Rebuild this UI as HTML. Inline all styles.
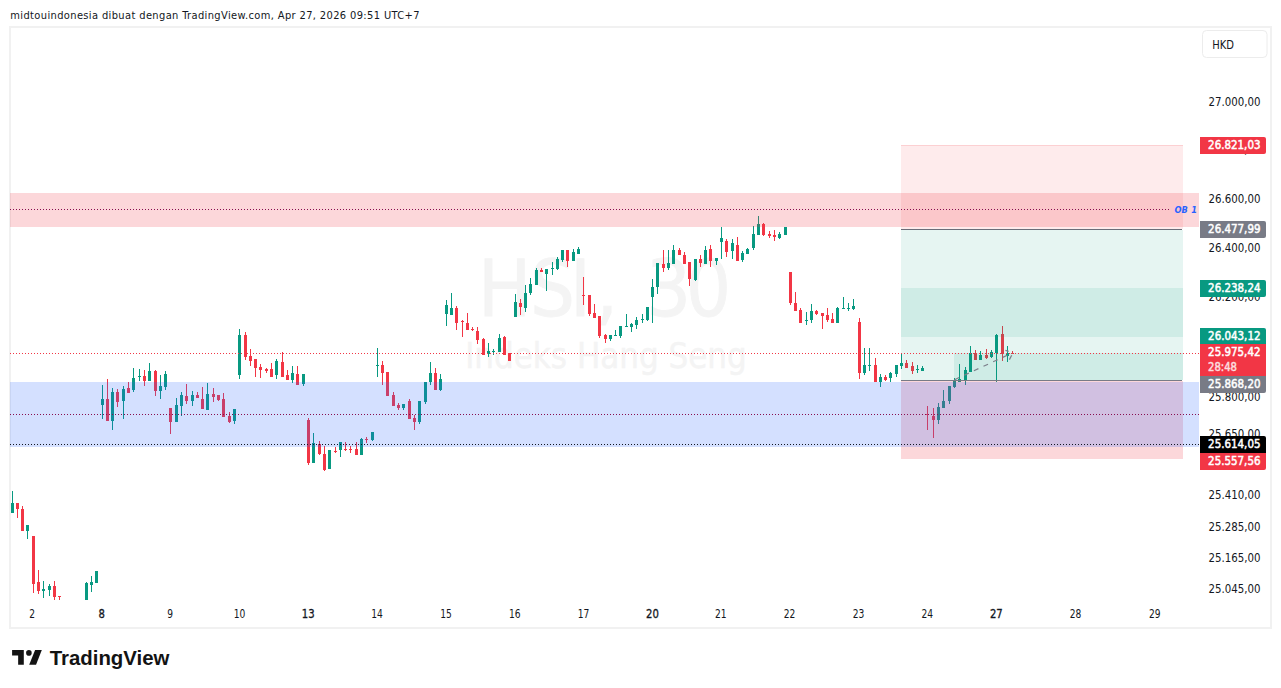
<!DOCTYPE html>
<html><head><meta charset="utf-8"><style>
html,body{margin:0;padding:0;background:#fff;width:1281px;height:688px;overflow:hidden}
svg{position:absolute;left:0;top:0;display:block}
text{font-family:"Liberation Sans", Arial, sans-serif}
.hd{font-family:"DejaVu Sans Condensed","DejaVu Sans",sans-serif;font-stretch:condensed;font-size:11px;fill:#131722}
.ax{font-family:"DejaVu Sans Condensed","DejaVu Sans",sans-serif;font-stretch:condensed;font-size:12px;fill:#131722}
.tm{font-family:"DejaVu Sans Condensed","DejaVu Sans",sans-serif;font-stretch:condensed;font-size:12px;fill:#131722}
.b{stroke:#131722;stroke-width:0.3px}
.lb{font-family:"DejaVu Sans Condensed","DejaVu Sans",sans-serif;font-stretch:condensed;font-size:12px;stroke:#fff;stroke-width:0.5px}
.lb2{font-family:"DejaVu Sans Condensed","DejaVu Sans",sans-serif;font-stretch:condensed;font-size:12px;stroke:#fcdcdf;stroke-width:0.5px}
.wm1{font-family:"DejaVu Sans Condensed","DejaVu Sans",sans-serif;font-stretch:condensed;font-size:78.7px;fill:#f4f4f4;stroke:#f4f4f4;stroke-width:0.8px}
.wm2{font-family:"DejaVu Sans Condensed","DejaVu Sans",sans-serif;font-stretch:condensed;font-size:35px;fill:#f4f4f4;stroke:#f4f4f4;stroke-width:0.4px}
</style></head><body>
<svg width="1281" height="688" viewBox="0 0 1281 688">
<text x="10.3" y="19" class="hd" textLength="409.2" lengthAdjust="spacing">midtouindonesia dibuat dengan TradingView.com, Apr 27, 2026 09:51 UTC+7</text>
<rect x="10" y="27" width="1261" height="601" fill="#fff" stroke="#f1f1f1" stroke-width="2"/>
<defs><clipPath id="pane"><rect x="10" y="28" width="1189" height="572"/></clipPath></defs>
<g clip-path="url(#pane)">
<text x="478 530 569.9 595.5 640 646.1 686" y="316" class="wm1">HSI, 30</text>
<text x="606" y="367.6" text-anchor="middle" class="wm2" textLength="281.6" lengthAdjust="spacingAndGlyphs">Indeks Hang Seng</text>
<g shape-rendering="crispEdges">
<rect x="12" y="491" width="1" height="12" fill="#089981"/>
<rect x="11" y="503" width="3" height="10" fill="#089981"/>
<rect x="17" y="509" width="1" height="9" fill="#f23645"/>
<rect x="16" y="503" width="3" height="6" fill="#f23645"/>
<rect x="22" y="506" width="1" height="3" fill="#f23645"/>
<rect x="21" y="509" width="3" height="22" fill="#f23645"/>
<rect x="27" y="531" width="1" height="8" fill="#089981"/>
<rect x="26" y="525" width="3" height="6" fill="#089981"/>
<rect x="33" y="584" width="1" height="9" fill="#f23645"/>
<rect x="32" y="536" width="3" height="48" fill="#f23645"/>
<rect x="38" y="570" width="1" height="12" fill="#f23645"/>
<rect x="38" y="591" width="1" height="3" fill="#f23645"/>
<rect x="37" y="582" width="3" height="9" fill="#f23645"/>
<rect x="43" y="581" width="1" height="8" fill="#089981"/>
<rect x="43" y="591" width="1" height="7" fill="#089981"/>
<rect x="42" y="589" width="3" height="2" fill="#089981"/>
<rect x="49" y="584" width="1" height="2" fill="#089981"/>
<rect x="49" y="590" width="1" height="6" fill="#089981"/>
<rect x="48" y="586" width="3" height="4" fill="#089981"/>
<rect x="54" y="581" width="1" height="5" fill="#f23645"/>
<rect x="54" y="597" width="1" height="3" fill="#f23645"/>
<rect x="53" y="586" width="3" height="11" fill="#f23645"/>
<rect x="59" y="597" width="1" height="3" fill="#f23645"/>
<rect x="58" y="596" width="3" height="1" fill="#f23645"/>
<rect x="86" y="582" width="1" height="1" fill="#089981"/>
<rect x="85" y="583" width="3" height="19" fill="#089981"/>
<rect x="91" y="576" width="1" height="6" fill="#089981"/>
<rect x="91" y="585" width="1" height="7" fill="#089981"/>
<rect x="90" y="582" width="3" height="3" fill="#089981"/>
<rect x="95" y="571" width="3" height="12" fill="#089981"/>
<rect x="102" y="385" width="1" height="14" fill="#089981"/>
<rect x="102" y="405" width="1" height="14" fill="#089981"/>
<rect x="101" y="399" width="3" height="6" fill="#089981"/>
<rect x="107" y="379" width="1" height="20" fill="#f23645"/>
<rect x="106" y="399" width="3" height="22" fill="#f23645"/>
<rect x="112" y="388" width="1" height="4" fill="#089981"/>
<rect x="112" y="421" width="1" height="9" fill="#089981"/>
<rect x="111" y="392" width="3" height="29" fill="#089981"/>
<rect x="117" y="389" width="1" height="3" fill="#f23645"/>
<rect x="117" y="402" width="1" height="5" fill="#f23645"/>
<rect x="116" y="392" width="3" height="10" fill="#f23645"/>
<rect x="123" y="386" width="1" height="3" fill="#089981"/>
<rect x="123" y="401" width="1" height="18" fill="#089981"/>
<rect x="122" y="389" width="3" height="12" fill="#089981"/>
<rect x="128" y="382" width="1" height="6" fill="#f23645"/>
<rect x="127" y="388" width="3" height="5" fill="#f23645"/>
<rect x="133" y="368" width="1" height="10" fill="#089981"/>
<rect x="133" y="390" width="1" height="2" fill="#089981"/>
<rect x="132" y="378" width="3" height="12" fill="#089981"/>
<rect x="139" y="369" width="1" height="7" fill="#089981"/>
<rect x="139" y="377" width="1" height="4" fill="#089981"/>
<rect x="138" y="376" width="3" height="1" fill="#089981"/>
<rect x="144" y="370" width="1" height="6" fill="#f23645"/>
<rect x="144" y="381" width="1" height="5" fill="#f23645"/>
<rect x="143" y="376" width="3" height="5" fill="#f23645"/>
<rect x="149" y="363" width="1" height="8" fill="#089981"/>
<rect x="148" y="371" width="3" height="10" fill="#089981"/>
<rect x="155" y="370" width="1" height="1" fill="#f23645"/>
<rect x="155" y="391" width="1" height="5" fill="#f23645"/>
<rect x="154" y="371" width="3" height="20" fill="#f23645"/>
<rect x="160" y="375" width="1" height="11" fill="#089981"/>
<rect x="160" y="391" width="1" height="8" fill="#089981"/>
<rect x="159" y="386" width="3" height="5" fill="#089981"/>
<rect x="165" y="371" width="1" height="3" fill="#089981"/>
<rect x="165" y="387" width="1" height="3" fill="#089981"/>
<rect x="164" y="374" width="3" height="13" fill="#089981"/>
<rect x="170" y="422" width="1" height="12" fill="#f23645"/>
<rect x="169" y="408" width="3" height="14" fill="#f23645"/>
<rect x="176" y="398" width="1" height="7" fill="#089981"/>
<rect x="175" y="405" width="3" height="17" fill="#089981"/>
<rect x="181" y="392" width="1" height="3" fill="#089981"/>
<rect x="181" y="406" width="1" height="10" fill="#089981"/>
<rect x="180" y="395" width="3" height="11" fill="#089981"/>
<rect x="186" y="384" width="1" height="12" fill="#f23645"/>
<rect x="186" y="401" width="1" height="3" fill="#f23645"/>
<rect x="185" y="396" width="3" height="5" fill="#f23645"/>
<rect x="192" y="391" width="1" height="4" fill="#089981"/>
<rect x="192" y="401" width="1" height="5" fill="#089981"/>
<rect x="191" y="395" width="3" height="6" fill="#089981"/>
<rect x="197" y="392" width="1" height="3" fill="#f23645"/>
<rect x="196" y="395" width="3" height="3" fill="#f23645"/>
<rect x="202" y="387" width="1" height="12" fill="#f23645"/>
<rect x="201" y="399" width="3" height="10" fill="#f23645"/>
<rect x="207" y="383" width="1" height="11" fill="#089981"/>
<rect x="206" y="394" width="3" height="16" fill="#089981"/>
<rect x="213" y="388" width="1" height="6" fill="#f23645"/>
<rect x="213" y="397" width="1" height="5" fill="#f23645"/>
<rect x="212" y="394" width="3" height="3" fill="#f23645"/>
<rect x="218" y="400" width="1" height="1" fill="#f23645"/>
<rect x="217" y="395" width="3" height="5" fill="#f23645"/>
<rect x="223" y="393" width="1" height="6" fill="#f23645"/>
<rect x="222" y="399" width="3" height="18" fill="#f23645"/>
<rect x="229" y="412" width="1" height="4" fill="#f23645"/>
<rect x="229" y="422" width="1" height="1" fill="#f23645"/>
<rect x="228" y="416" width="3" height="6" fill="#f23645"/>
<rect x="234" y="421" width="1" height="3" fill="#089981"/>
<rect x="233" y="409" width="3" height="12" fill="#089981"/>
<rect x="239" y="329" width="1" height="6" fill="#089981"/>
<rect x="239" y="375" width="1" height="4" fill="#089981"/>
<rect x="238" y="335" width="3" height="40" fill="#089981"/>
<rect x="245" y="332" width="1" height="3" fill="#f23645"/>
<rect x="245" y="357" width="1" height="3" fill="#f23645"/>
<rect x="244" y="335" width="3" height="22" fill="#f23645"/>
<rect x="250" y="349" width="1" height="7" fill="#f23645"/>
<rect x="250" y="361" width="1" height="5" fill="#f23645"/>
<rect x="249" y="356" width="3" height="5" fill="#f23645"/>
<rect x="255" y="368" width="1" height="9" fill="#f23645"/>
<rect x="254" y="359" width="3" height="9" fill="#f23645"/>
<rect x="260" y="364" width="1" height="3" fill="#f23645"/>
<rect x="260" y="370" width="1" height="8" fill="#f23645"/>
<rect x="259" y="367" width="3" height="3" fill="#f23645"/>
<rect x="266" y="368" width="1" height="1" fill="#f23645"/>
<rect x="266" y="371" width="1" height="2" fill="#f23645"/>
<rect x="265" y="369" width="3" height="2" fill="#f23645"/>
<rect x="271" y="363" width="1" height="6" fill="#f23645"/>
<rect x="270" y="369" width="3" height="8" fill="#f23645"/>
<rect x="276" y="359" width="1" height="2" fill="#089981"/>
<rect x="276" y="375" width="1" height="4" fill="#089981"/>
<rect x="275" y="361" width="3" height="14" fill="#089981"/>
<rect x="282" y="352" width="1" height="10" fill="#f23645"/>
<rect x="281" y="362" width="3" height="15" fill="#f23645"/>
<rect x="287" y="370" width="1" height="5" fill="#f23645"/>
<rect x="286" y="375" width="3" height="5" fill="#f23645"/>
<rect x="292" y="366" width="1" height="7" fill="#089981"/>
<rect x="292" y="380" width="1" height="3" fill="#089981"/>
<rect x="291" y="373" width="3" height="7" fill="#089981"/>
<rect x="297" y="366" width="1" height="8" fill="#f23645"/>
<rect x="296" y="374" width="3" height="11" fill="#f23645"/>
<rect x="303" y="384" width="1" height="2" fill="#089981"/>
<rect x="302" y="374" width="3" height="10" fill="#089981"/>
<rect x="308" y="418" width="1" height="2" fill="#f23645"/>
<rect x="308" y="463" width="1" height="2" fill="#f23645"/>
<rect x="307" y="420" width="3" height="43" fill="#f23645"/>
<rect x="313" y="433" width="1" height="10" fill="#089981"/>
<rect x="312" y="443" width="3" height="20" fill="#089981"/>
<rect x="319" y="441" width="1" height="3" fill="#f23645"/>
<rect x="319" y="454" width="1" height="1" fill="#f23645"/>
<rect x="318" y="444" width="3" height="10" fill="#f23645"/>
<rect x="324" y="446" width="1" height="8" fill="#f23645"/>
<rect x="324" y="470" width="1" height="1" fill="#f23645"/>
<rect x="323" y="454" width="3" height="16" fill="#f23645"/>
<rect x="328" y="450" width="3" height="19" fill="#089981"/>
<rect x="335" y="447" width="1" height="4" fill="#f23645"/>
<rect x="335" y="452" width="1" height="1" fill="#f23645"/>
<rect x="334" y="451" width="3" height="1" fill="#f23645"/>
<rect x="340" y="450" width="1" height="7" fill="#089981"/>
<rect x="339" y="442" width="3" height="8" fill="#089981"/>
<rect x="345" y="442" width="1" height="7" fill="#f23645"/>
<rect x="345" y="450" width="1" height="1" fill="#f23645"/>
<rect x="344" y="449" width="3" height="1" fill="#f23645"/>
<rect x="350" y="446" width="1" height="3" fill="#f23645"/>
<rect x="350" y="450" width="1" height="3" fill="#f23645"/>
<rect x="349" y="449" width="3" height="1" fill="#f23645"/>
<rect x="356" y="442" width="1" height="7" fill="#f23645"/>
<rect x="355" y="449" width="3" height="6" fill="#f23645"/>
<rect x="361" y="438" width="1" height="1" fill="#089981"/>
<rect x="360" y="439" width="3" height="16" fill="#089981"/>
<rect x="366" y="437" width="1" height="2" fill="#f23645"/>
<rect x="366" y="440" width="1" height="3" fill="#f23645"/>
<rect x="365" y="439" width="3" height="1" fill="#f23645"/>
<rect x="372" y="440" width="1" height="1" fill="#089981"/>
<rect x="371" y="432" width="3" height="8" fill="#089981"/>
<rect x="377" y="348" width="1" height="17" fill="#089981"/>
<rect x="377" y="366" width="1" height="11" fill="#089981"/>
<rect x="376" y="365" width="3" height="1" fill="#089981"/>
<rect x="382" y="361" width="1" height="4" fill="#f23645"/>
<rect x="382" y="373" width="1" height="12" fill="#f23645"/>
<rect x="381" y="365" width="3" height="8" fill="#f23645"/>
<rect x="386" y="372" width="3" height="24" fill="#f23645"/>
<rect x="393" y="392" width="1" height="3" fill="#f23645"/>
<rect x="392" y="395" width="3" height="11" fill="#f23645"/>
<rect x="398" y="403" width="1" height="2" fill="#f23645"/>
<rect x="398" y="408" width="1" height="2" fill="#f23645"/>
<rect x="397" y="405" width="3" height="3" fill="#f23645"/>
<rect x="403" y="408" width="1" height="2" fill="#089981"/>
<rect x="402" y="404" width="3" height="4" fill="#089981"/>
<rect x="409" y="399" width="1" height="2" fill="#f23645"/>
<rect x="408" y="401" width="3" height="18" fill="#f23645"/>
<rect x="414" y="415" width="1" height="3" fill="#f23645"/>
<rect x="414" y="422" width="1" height="8" fill="#f23645"/>
<rect x="413" y="418" width="3" height="4" fill="#f23645"/>
<rect x="419" y="422" width="1" height="2" fill="#089981"/>
<rect x="418" y="401" width="3" height="21" fill="#089981"/>
<rect x="425" y="402" width="1" height="2" fill="#089981"/>
<rect x="424" y="382" width="3" height="20" fill="#089981"/>
<rect x="430" y="362" width="1" height="11" fill="#089981"/>
<rect x="430" y="382" width="1" height="3" fill="#089981"/>
<rect x="429" y="373" width="3" height="9" fill="#089981"/>
<rect x="435" y="368" width="1" height="5" fill="#f23645"/>
<rect x="434" y="373" width="3" height="17" fill="#f23645"/>
<rect x="440" y="374" width="1" height="5" fill="#089981"/>
<rect x="440" y="390" width="1" height="1" fill="#089981"/>
<rect x="439" y="379" width="3" height="11" fill="#089981"/>
<rect x="446" y="300" width="1" height="5" fill="#089981"/>
<rect x="446" y="314" width="1" height="12" fill="#089981"/>
<rect x="445" y="305" width="3" height="9" fill="#089981"/>
<rect x="451" y="293" width="1" height="15" fill="#089981"/>
<rect x="450" y="308" width="3" height="7" fill="#089981"/>
<rect x="456" y="306" width="1" height="2" fill="#f23645"/>
<rect x="456" y="323" width="1" height="7" fill="#f23645"/>
<rect x="455" y="308" width="3" height="15" fill="#f23645"/>
<rect x="462" y="320" width="1" height="1" fill="#f23645"/>
<rect x="462" y="322" width="1" height="15" fill="#f23645"/>
<rect x="461" y="321" width="3" height="1" fill="#f23645"/>
<rect x="467" y="313" width="1" height="10" fill="#f23645"/>
<rect x="466" y="323" width="3" height="7" fill="#f23645"/>
<rect x="472" y="327" width="1" height="2" fill="#f23645"/>
<rect x="472" y="330" width="1" height="1" fill="#f23645"/>
<rect x="471" y="329" width="3" height="1" fill="#f23645"/>
<rect x="477" y="327" width="1" height="4" fill="#f23645"/>
<rect x="477" y="340" width="1" height="4" fill="#f23645"/>
<rect x="476" y="331" width="3" height="9" fill="#f23645"/>
<rect x="483" y="338" width="1" height="1" fill="#f23645"/>
<rect x="482" y="339" width="3" height="16" fill="#f23645"/>
<rect x="488" y="343" width="1" height="8" fill="#089981"/>
<rect x="488" y="354" width="1" height="3" fill="#089981"/>
<rect x="487" y="351" width="3" height="3" fill="#089981"/>
<rect x="493" y="349" width="1" height="2" fill="#089981"/>
<rect x="493" y="352" width="1" height="3" fill="#089981"/>
<rect x="492" y="351" width="3" height="1" fill="#089981"/>
<rect x="499" y="334" width="1" height="4" fill="#089981"/>
<rect x="498" y="338" width="3" height="14" fill="#089981"/>
<rect x="504" y="336" width="1" height="1" fill="#f23645"/>
<rect x="503" y="337" width="3" height="18" fill="#f23645"/>
<rect x="508" y="353" width="3" height="8" fill="#f23645"/>
<rect x="515" y="294" width="1" height="8" fill="#089981"/>
<rect x="514" y="302" width="3" height="15" fill="#089981"/>
<rect x="520" y="299" width="1" height="4" fill="#f23645"/>
<rect x="520" y="307" width="1" height="8" fill="#f23645"/>
<rect x="519" y="303" width="3" height="4" fill="#f23645"/>
<rect x="525" y="285" width="1" height="8" fill="#089981"/>
<rect x="525" y="308" width="1" height="4" fill="#089981"/>
<rect x="524" y="293" width="3" height="15" fill="#089981"/>
<rect x="530" y="278" width="1" height="6" fill="#089981"/>
<rect x="530" y="293" width="1" height="2" fill="#089981"/>
<rect x="529" y="284" width="3" height="9" fill="#089981"/>
<rect x="536" y="268" width="1" height="2" fill="#089981"/>
<rect x="535" y="270" width="3" height="15" fill="#089981"/>
<rect x="541" y="268" width="1" height="2" fill="#f23645"/>
<rect x="540" y="270" width="3" height="2" fill="#f23645"/>
<rect x="546" y="274" width="1" height="17" fill="#089981"/>
<rect x="545" y="269" width="3" height="5" fill="#089981"/>
<rect x="552" y="262" width="1" height="6" fill="#089981"/>
<rect x="552" y="269" width="1" height="6" fill="#089981"/>
<rect x="551" y="268" width="3" height="1" fill="#089981"/>
<rect x="557" y="257" width="1" height="2" fill="#089981"/>
<rect x="557" y="269" width="1" height="1" fill="#089981"/>
<rect x="556" y="259" width="3" height="10" fill="#089981"/>
<rect x="562" y="260" width="1" height="2" fill="#089981"/>
<rect x="561" y="250" width="3" height="10" fill="#089981"/>
<rect x="567" y="261" width="1" height="6" fill="#f23645"/>
<rect x="566" y="250" width="3" height="11" fill="#f23645"/>
<rect x="573" y="249" width="1" height="3" fill="#089981"/>
<rect x="572" y="252" width="3" height="9" fill="#089981"/>
<rect x="578" y="247" width="1" height="2" fill="#089981"/>
<rect x="577" y="249" width="3" height="5" fill="#089981"/>
<rect x="583" y="277" width="1" height="18" fill="#f23645"/>
<rect x="583" y="296" width="1" height="9" fill="#f23645"/>
<rect x="582" y="295" width="3" height="1" fill="#f23645"/>
<rect x="589" y="314" width="1" height="2" fill="#f23645"/>
<rect x="588" y="295" width="3" height="19" fill="#f23645"/>
<rect x="594" y="304" width="1" height="9" fill="#f23645"/>
<rect x="593" y="313" width="3" height="5" fill="#f23645"/>
<rect x="599" y="336" width="1" height="2" fill="#f23645"/>
<rect x="598" y="316" width="3" height="20" fill="#f23645"/>
<rect x="605" y="334" width="1" height="1" fill="#f23645"/>
<rect x="605" y="339" width="1" height="4" fill="#f23645"/>
<rect x="604" y="335" width="3" height="4" fill="#f23645"/>
<rect x="610" y="339" width="1" height="2" fill="#089981"/>
<rect x="609" y="335" width="3" height="4" fill="#089981"/>
<rect x="615" y="330" width="1" height="5" fill="#089981"/>
<rect x="614" y="335" width="3" height="1" fill="#089981"/>
<rect x="620" y="336" width="1" height="2" fill="#089981"/>
<rect x="619" y="326" width="3" height="10" fill="#089981"/>
<rect x="626" y="314" width="1" height="12" fill="#089981"/>
<rect x="625" y="326" width="3" height="1" fill="#089981"/>
<rect x="631" y="323" width="1" height="1" fill="#089981"/>
<rect x="631" y="327" width="1" height="5" fill="#089981"/>
<rect x="630" y="324" width="3" height="3" fill="#089981"/>
<rect x="636" y="317" width="1" height="3" fill="#089981"/>
<rect x="636" y="325" width="1" height="4" fill="#089981"/>
<rect x="635" y="320" width="3" height="5" fill="#089981"/>
<rect x="642" y="314" width="1" height="5" fill="#089981"/>
<rect x="642" y="320" width="1" height="3" fill="#089981"/>
<rect x="641" y="319" width="3" height="1" fill="#089981"/>
<rect x="647" y="320" width="1" height="1" fill="#089981"/>
<rect x="646" y="307" width="3" height="13" fill="#089981"/>
<rect x="652" y="279" width="1" height="8" fill="#089981"/>
<rect x="652" y="297" width="1" height="26" fill="#089981"/>
<rect x="651" y="287" width="3" height="10" fill="#089981"/>
<rect x="657" y="287" width="1" height="7" fill="#089981"/>
<rect x="656" y="263" width="3" height="24" fill="#089981"/>
<rect x="663" y="250" width="1" height="14" fill="#f23645"/>
<rect x="663" y="268" width="1" height="4" fill="#f23645"/>
<rect x="662" y="264" width="3" height="4" fill="#f23645"/>
<rect x="668" y="250" width="1" height="13" fill="#089981"/>
<rect x="668" y="268" width="1" height="2" fill="#089981"/>
<rect x="667" y="263" width="3" height="5" fill="#089981"/>
<rect x="673" y="245" width="1" height="5" fill="#089981"/>
<rect x="672" y="250" width="3" height="14" fill="#089981"/>
<rect x="679" y="248" width="1" height="2" fill="#f23645"/>
<rect x="678" y="250" width="3" height="5" fill="#f23645"/>
<rect x="684" y="252" width="1" height="3" fill="#f23645"/>
<rect x="683" y="255" width="3" height="9" fill="#f23645"/>
<rect x="689" y="279" width="1" height="7" fill="#f23645"/>
<rect x="688" y="262" width="3" height="17" fill="#f23645"/>
<rect x="695" y="280" width="1" height="1" fill="#089981"/>
<rect x="694" y="259" width="3" height="21" fill="#089981"/>
<rect x="700" y="255" width="1" height="4" fill="#f23645"/>
<rect x="700" y="263" width="1" height="4" fill="#f23645"/>
<rect x="699" y="259" width="3" height="4" fill="#f23645"/>
<rect x="705" y="246" width="1" height="4" fill="#089981"/>
<rect x="704" y="250" width="3" height="14" fill="#089981"/>
<rect x="710" y="245" width="1" height="4" fill="#f23645"/>
<rect x="710" y="261" width="1" height="6" fill="#f23645"/>
<rect x="709" y="249" width="3" height="12" fill="#f23645"/>
<rect x="716" y="261" width="1" height="4" fill="#089981"/>
<rect x="715" y="258" width="3" height="3" fill="#089981"/>
<rect x="721" y="227" width="1" height="11" fill="#089981"/>
<rect x="721" y="242" width="1" height="17" fill="#089981"/>
<rect x="720" y="238" width="3" height="4" fill="#089981"/>
<rect x="726" y="239" width="1" height="2" fill="#f23645"/>
<rect x="726" y="252" width="1" height="5" fill="#f23645"/>
<rect x="725" y="241" width="3" height="11" fill="#f23645"/>
<rect x="732" y="239" width="1" height="4" fill="#089981"/>
<rect x="732" y="251" width="1" height="8" fill="#089981"/>
<rect x="731" y="243" width="3" height="8" fill="#089981"/>
<rect x="737" y="237" width="1" height="8" fill="#f23645"/>
<rect x="736" y="245" width="3" height="16" fill="#f23645"/>
<rect x="742" y="251" width="1" height="2" fill="#089981"/>
<rect x="742" y="260" width="1" height="2" fill="#089981"/>
<rect x="741" y="253" width="3" height="7" fill="#089981"/>
<rect x="747" y="248" width="1" height="1" fill="#089981"/>
<rect x="746" y="249" width="3" height="5" fill="#089981"/>
<rect x="753" y="226" width="1" height="8" fill="#089981"/>
<rect x="753" y="248" width="1" height="2" fill="#089981"/>
<rect x="752" y="234" width="3" height="14" fill="#089981"/>
<rect x="758" y="216" width="1" height="8" fill="#089981"/>
<rect x="757" y="224" width="3" height="11" fill="#089981"/>
<rect x="763" y="223" width="1" height="1" fill="#f23645"/>
<rect x="763" y="235" width="1" height="1" fill="#f23645"/>
<rect x="762" y="224" width="3" height="11" fill="#f23645"/>
<rect x="769" y="231" width="1" height="3" fill="#f23645"/>
<rect x="769" y="236" width="1" height="2" fill="#f23645"/>
<rect x="768" y="234" width="3" height="2" fill="#f23645"/>
<rect x="774" y="230" width="1" height="5" fill="#f23645"/>
<rect x="774" y="237" width="1" height="4" fill="#f23645"/>
<rect x="773" y="235" width="3" height="2" fill="#f23645"/>
<rect x="779" y="232" width="1" height="2" fill="#089981"/>
<rect x="779" y="238" width="1" height="1" fill="#089981"/>
<rect x="778" y="234" width="3" height="4" fill="#089981"/>
<rect x="784" y="227" width="3" height="8" fill="#089981"/>
<rect x="790" y="303" width="1" height="2" fill="#f23645"/>
<rect x="789" y="272" width="3" height="31" fill="#f23645"/>
<rect x="795" y="292" width="1" height="11" fill="#f23645"/>
<rect x="794" y="303" width="3" height="8" fill="#f23645"/>
<rect x="800" y="308" width="1" height="2" fill="#f23645"/>
<rect x="799" y="310" width="3" height="13" fill="#f23645"/>
<rect x="806" y="312" width="1" height="8" fill="#089981"/>
<rect x="806" y="321" width="1" height="4" fill="#089981"/>
<rect x="805" y="320" width="3" height="1" fill="#089981"/>
<rect x="811" y="304" width="1" height="7" fill="#089981"/>
<rect x="811" y="320" width="1" height="3" fill="#089981"/>
<rect x="810" y="311" width="3" height="9" fill="#089981"/>
<rect x="816" y="310" width="1" height="1" fill="#f23645"/>
<rect x="816" y="314" width="1" height="1" fill="#f23645"/>
<rect x="815" y="311" width="3" height="3" fill="#f23645"/>
<rect x="822" y="316" width="1" height="13" fill="#f23645"/>
<rect x="821" y="313" width="3" height="3" fill="#f23645"/>
<rect x="827" y="308" width="1" height="7" fill="#f23645"/>
<rect x="827" y="320" width="1" height="2" fill="#f23645"/>
<rect x="826" y="315" width="3" height="5" fill="#f23645"/>
<rect x="832" y="313" width="1" height="6" fill="#f23645"/>
<rect x="831" y="319" width="3" height="4" fill="#f23645"/>
<rect x="837" y="307" width="1" height="1" fill="#089981"/>
<rect x="836" y="308" width="3" height="15" fill="#089981"/>
<rect x="843" y="297" width="1" height="11" fill="#089981"/>
<rect x="842" y="308" width="3" height="1" fill="#089981"/>
<rect x="848" y="303" width="1" height="5" fill="#089981"/>
<rect x="848" y="309" width="1" height="2" fill="#089981"/>
<rect x="847" y="308" width="3" height="1" fill="#089981"/>
<rect x="853" y="299" width="1" height="7" fill="#089981"/>
<rect x="853" y="309" width="1" height="1" fill="#089981"/>
<rect x="852" y="306" width="3" height="3" fill="#089981"/>
<rect x="859" y="318" width="1" height="4" fill="#f23645"/>
<rect x="859" y="373" width="1" height="6" fill="#f23645"/>
<rect x="858" y="322" width="3" height="51" fill="#f23645"/>
<rect x="864" y="348" width="1" height="17" fill="#089981"/>
<rect x="864" y="373" width="1" height="2" fill="#089981"/>
<rect x="863" y="365" width="3" height="8" fill="#089981"/>
<rect x="869" y="348" width="1" height="17" fill="#089981"/>
<rect x="869" y="366" width="1" height="5" fill="#089981"/>
<rect x="868" y="365" width="3" height="1" fill="#089981"/>
<rect x="875" y="358" width="1" height="7" fill="#f23645"/>
<rect x="874" y="365" width="3" height="17" fill="#f23645"/>
<rect x="880" y="374" width="1" height="3" fill="#089981"/>
<rect x="880" y="382" width="1" height="5" fill="#089981"/>
<rect x="879" y="377" width="3" height="5" fill="#089981"/>
<rect x="885" y="375" width="1" height="2" fill="#f23645"/>
<rect x="885" y="380" width="1" height="1" fill="#f23645"/>
<rect x="884" y="377" width="3" height="3" fill="#f23645"/>
<rect x="890" y="372" width="1" height="1" fill="#089981"/>
<rect x="890" y="378" width="1" height="4" fill="#089981"/>
<rect x="889" y="373" width="3" height="5" fill="#089981"/>
<rect x="896" y="374" width="1" height="3" fill="#089981"/>
<rect x="895" y="365" width="3" height="9" fill="#089981"/>
<rect x="901" y="353" width="1" height="10" fill="#089981"/>
<rect x="901" y="366" width="1" height="3" fill="#089981"/>
<rect x="900" y="363" width="3" height="3" fill="#089981"/>
<rect x="906" y="360" width="1" height="3" fill="#f23645"/>
<rect x="905" y="363" width="3" height="5" fill="#f23645"/>
<rect x="912" y="362" width="1" height="4" fill="#f23645"/>
<rect x="912" y="371" width="1" height="3" fill="#f23645"/>
<rect x="911" y="366" width="3" height="5" fill="#f23645"/>
<rect x="917" y="365" width="1" height="4" fill="#089981"/>
<rect x="917" y="370" width="1" height="3" fill="#089981"/>
<rect x="916" y="369" width="3" height="1" fill="#089981"/>
<rect x="922" y="366" width="1" height="2" fill="#089981"/>
<rect x="921" y="368" width="3" height="3" fill="#089981"/>
<rect x="927" y="406" width="1" height="8" fill="#f23645"/>
<rect x="927" y="415" width="1" height="15" fill="#f23645"/>
<rect x="926" y="414" width="3" height="1" fill="#f23645"/>
<rect x="933" y="408" width="1" height="8" fill="#f23645"/>
<rect x="933" y="420" width="1" height="18" fill="#f23645"/>
<rect x="932" y="416" width="3" height="4" fill="#f23645"/>
<rect x="938" y="403" width="1" height="4" fill="#089981"/>
<rect x="938" y="420" width="1" height="4" fill="#089981"/>
<rect x="937" y="407" width="3" height="13" fill="#089981"/>
<rect x="943" y="390" width="1" height="11" fill="#089981"/>
<rect x="942" y="401" width="3" height="7" fill="#089981"/>
<rect x="949" y="401" width="1" height="3" fill="#089981"/>
<rect x="948" y="386" width="3" height="15" fill="#089981"/>
<rect x="954" y="378" width="1" height="2" fill="#089981"/>
<rect x="954" y="387" width="1" height="1" fill="#089981"/>
<rect x="953" y="380" width="3" height="7" fill="#089981"/>
<rect x="959" y="364" width="1" height="15" fill="#089981"/>
<rect x="958" y="379" width="3" height="3" fill="#089981"/>
<rect x="965" y="367" width="1" height="3" fill="#089981"/>
<rect x="965" y="381" width="1" height="4" fill="#089981"/>
<rect x="964" y="370" width="3" height="11" fill="#089981"/>
<rect x="970" y="346" width="1" height="7" fill="#089981"/>
<rect x="969" y="353" width="3" height="19" fill="#089981"/>
<rect x="975" y="350" width="1" height="3" fill="#f23645"/>
<rect x="974" y="353" width="3" height="7" fill="#f23645"/>
<rect x="980" y="351" width="1" height="4" fill="#089981"/>
<rect x="979" y="355" width="3" height="5" fill="#089981"/>
<rect x="986" y="349" width="1" height="6" fill="#f23645"/>
<rect x="986" y="358" width="1" height="1" fill="#f23645"/>
<rect x="985" y="355" width="3" height="3" fill="#f23645"/>
<rect x="991" y="350" width="1" height="2" fill="#089981"/>
<rect x="991" y="357" width="1" height="1" fill="#089981"/>
<rect x="990" y="352" width="3" height="5" fill="#089981"/>
<rect x="996" y="334" width="1" height="1" fill="#089981"/>
<rect x="996" y="353" width="1" height="29" fill="#089981"/>
<rect x="995" y="335" width="3" height="18" fill="#089981"/>
<rect x="1002" y="326" width="1" height="8" fill="#f23645"/>
<rect x="1002" y="354" width="1" height="7" fill="#f23645"/>
<rect x="1001" y="334" width="3" height="20" fill="#f23645"/>
<rect x="1007" y="346" width="1" height="7" fill="#089981"/>
<rect x="1007" y="356" width="1" height="6" fill="#089981"/>
<rect x="1006" y="353" width="3" height="3" fill="#089981"/>
<rect x="1012" y="351" width="1" height="2" fill="#f23645"/>
<rect x="1011" y="353" width="3" height="1" fill="#f23645"/>
</g>
<g shape-rendering="crispEdges">
<rect x="901" y="145" width="282" height="84" fill="rgb(242,54,69)" fill-opacity="0.1"/>
<rect x="901" y="145" width="282" height="1" fill="rgb(242,54,69)" fill-opacity="0.15"/>
<rect x="901" y="230" width="282" height="150" fill="rgb(8,153,129)" fill-opacity="0.1"/>
<rect x="901" y="288" width="282" height="49" fill="rgb(8,153,129)" fill-opacity="0.1"/>
<rect x="954" y="353" width="229" height="27" fill="rgb(8,153,129)" fill-opacity="0.1"/>
<rect x="901" y="381" width="282" height="78" fill="rgb(242,54,69)" fill-opacity="0.2"/>
<rect x="10" y="193" width="1189" height="34" fill="rgb(242,54,69)" fill-opacity="0.2"/>
<rect x="10" y="382" width="1189" height="65" fill="rgb(41,98,255)" fill-opacity="0.2"/>
<rect x="901" y="229" width="281" height="1" fill="#6a6d78"/>
<rect x="901" y="380" width="281" height="1" fill="#787b86"/>
</g>
<line x1="10" y1="209.5" x2="1170" y2="209.5" stroke="#880e4f" stroke-width="1.2" stroke-dasharray="1 2"/>
<line x1="10" y1="353.5" x2="1199" y2="353.5" stroke="#f23645" stroke-width="1.2" stroke-dasharray="1 2"/>
<line x1="10" y1="414.5" x2="1199" y2="414.5" stroke="#880e4f" stroke-width="1.2" stroke-dasharray="1 2"/>
<line x1="10" y1="444.5" x2="1199" y2="444.5" stroke="#131722" stroke-width="1.2" stroke-dasharray="1 2"/>
<line x1="953.5" y1="380.2" x2="1011.5" y2="353.3" stroke="#7c7f8a" stroke-width="1.2" stroke-dasharray="5 5.6" stroke-dashoffset="9.34"/>
<line x1="1005.4" y1="350.4" x2="1008.6" y2="351.4" stroke="#7c7f8a" stroke-width="1.2"/>
<line x1="1009.4" y1="359.6" x2="1011.7" y2="355.3" stroke="#7c7f8a" stroke-width="1.2"/>
<text x="1174.4" y="213" font-size="9.2px" font-style="italic" font-weight="bold" fill="#2962ff" style="font-family:&quot;DejaVu Sans Condensed&quot;,&quot;DejaVu Sans&quot;,sans-serif;font-stretch:condensed" word-spacing="0.6px">OB 1</text>
</g>
<text x="1260.5" y="105.6" text-anchor="end" class="ax" textLength="52" lengthAdjust="spacingAndGlyphs">27.000,00</text>
<text x="1260.5" y="154.3" text-anchor="end" class="ax" textLength="52" lengthAdjust="spacingAndGlyphs">26.800,00</text>
<text x="1260.5" y="352.0" text-anchor="end" class="ax" textLength="52" lengthAdjust="spacingAndGlyphs">26.000,00</text>
<text x="1260.5" y="468.5" text-anchor="end" class="ax" textLength="52" lengthAdjust="spacingAndGlyphs">25.530,00</text>
<text x="1260.5" y="203.1" text-anchor="end" class="ax" textLength="52" lengthAdjust="spacingAndGlyphs">26.600,00</text>
<text x="1260.5" y="252.2" text-anchor="end" class="ax" textLength="52" lengthAdjust="spacingAndGlyphs">26.400,00</text>
<text x="1260.5" y="301.4" text-anchor="end" class="ax" textLength="52" lengthAdjust="spacingAndGlyphs">26.200,00</text>
<text x="1260.5" y="400.8" text-anchor="end" class="ax" textLength="52" lengthAdjust="spacingAndGlyphs">25.800,00</text>
<text x="1260.5" y="437.6" text-anchor="end" class="ax" textLength="52" lengthAdjust="spacingAndGlyphs">25.650,00</text>
<text x="1260.5" y="499.3" text-anchor="end" class="ax" textLength="52" lengthAdjust="spacingAndGlyphs">25.410,00</text>
<text x="1260.5" y="531.2" text-anchor="end" class="ax" textLength="52" lengthAdjust="spacingAndGlyphs">25.285,00</text>
<text x="1260.5" y="562.1" text-anchor="end" class="ax" textLength="52" lengthAdjust="spacingAndGlyphs">25.165,00</text>
<text x="1260.5" y="593.4" text-anchor="end" class="ax" textLength="52" lengthAdjust="spacingAndGlyphs">25.045,00</text>
<text x="32.1" y="618" text-anchor="middle" class="tm" textLength="5.8" lengthAdjust="spacingAndGlyphs">2</text>
<text x="101.6" y="618" text-anchor="middle" class="tm b" textLength="6.4" lengthAdjust="spacingAndGlyphs">8</text>
<text x="170.2" y="618" text-anchor="middle" class="tm" textLength="5.8" lengthAdjust="spacingAndGlyphs">9</text>
<text x="239.5" y="618" text-anchor="middle" class="tm" textLength="11.6" lengthAdjust="spacingAndGlyphs">10</text>
<text x="308.2" y="618" text-anchor="middle" class="tm b" textLength="12.8" lengthAdjust="spacingAndGlyphs">13</text>
<text x="377" y="618" text-anchor="middle" class="tm" textLength="11.6" lengthAdjust="spacingAndGlyphs">14</text>
<text x="446" y="618" text-anchor="middle" class="tm" textLength="11.6" lengthAdjust="spacingAndGlyphs">15</text>
<text x="514.8" y="618" text-anchor="middle" class="tm" textLength="11.6" lengthAdjust="spacingAndGlyphs">16</text>
<text x="583.6" y="618" text-anchor="middle" class="tm" textLength="11.6" lengthAdjust="spacingAndGlyphs">17</text>
<text x="652.5" y="618" text-anchor="middle" class="tm b" textLength="12.8" lengthAdjust="spacingAndGlyphs">20</text>
<text x="720.7" y="618" text-anchor="middle" class="tm" textLength="11.6" lengthAdjust="spacingAndGlyphs">21</text>
<text x="789.5" y="618" text-anchor="middle" class="tm" textLength="11.6" lengthAdjust="spacingAndGlyphs">22</text>
<text x="858.5" y="618" text-anchor="middle" class="tm" textLength="11.6" lengthAdjust="spacingAndGlyphs">23</text>
<text x="927.2" y="618" text-anchor="middle" class="tm" textLength="11.6" lengthAdjust="spacingAndGlyphs">24</text>
<text x="996.3" y="618" text-anchor="middle" class="tm b" textLength="12.8" lengthAdjust="spacingAndGlyphs">27</text>
<text x="1075.5" y="618" text-anchor="middle" class="tm" textLength="11.6" lengthAdjust="spacingAndGlyphs">28</text>
<text x="1154.7" y="618" text-anchor="middle" class="tm" textLength="11.6" lengthAdjust="spacingAndGlyphs">29</text>
<rect x="1202.5" y="30.5" width="64.5" height="27" rx="4" fill="#fff" stroke="#ececec"/>
<text x="1212.2" y="48.9" style="font-family:&quot;DejaVu Sans Condensed&quot;,&quot;DejaVu Sans&quot;,sans-serif;font-stretch:condensed;font-size:12.3px" fill="#131722" textLength="21.8" lengthAdjust="spacingAndGlyphs">HKD</text>
<path d="M1200 137 H1264 Q1266 137 1266 139 V152 Q1266 154 1264 154 H1200 Z" fill="#f23645"/><text x="1234.3" y="149.1" text-anchor="middle" class="lb" fill="#fff" textLength="52.4" lengthAdjust="spacingAndGlyphs">26.821,03</text>
<path d="M1200 221 H1264 Q1266 221 1266 223 V236 Q1266 238 1264 238 H1200 Z" fill="#787b86"/><text x="1234.3" y="233.1" text-anchor="middle" class="lb" fill="#fff" textLength="52.4" lengthAdjust="spacingAndGlyphs">26.477,99</text>
<path d="M1200 280 H1264 Q1266 280 1266 282 V295 Q1266 297 1264 297 H1200 Z" fill="#089981"/><text x="1234.3" y="292.1" text-anchor="middle" class="lb" fill="#fff" textLength="52.4" lengthAdjust="spacingAndGlyphs">26.238,24</text>
<path d="M1200 328 H1264 Q1266 328 1266 330 V344 H1200 Z" fill="#089981"/><text x="1234.3" y="339.6" text-anchor="middle" class="lb" fill="#fff" textLength="52.4" lengthAdjust="spacingAndGlyphs">26.043,12</text>
<path d="M1200 344 H1266 V376 H1200 Z" fill="#f23645"/><text x="1234.3" y="356.0" text-anchor="middle" class="lb" fill="#fff" textLength="52.4" lengthAdjust="spacingAndGlyphs">25.975,42</text><text x="1208" y="370.6" class="lb2" fill="#fcdcdf" textLength="29" lengthAdjust="spacingAndGlyphs">28:48</text>
<path d="M1200 376 H1266 V391 Q1266 393 1264 393 H1200 Z" fill="#787b86"/><text x="1234.3" y="388.1" text-anchor="middle" class="lb" fill="#fff" textLength="52.4" lengthAdjust="spacingAndGlyphs">25.868,20</text>
<path d="M1200 436 H1264 Q1266 436 1266 438 V453 H1200 Z" fill="#000000"/><text x="1234.3" y="448.1" text-anchor="middle" class="lb" fill="#fff" textLength="52.4" lengthAdjust="spacingAndGlyphs">25.614,05</text>
<path d="M1200 453 H1266 V468 Q1266 470 1264 470 H1200 Z" fill="#f23645"/><text x="1234.3" y="465.1" text-anchor="middle" class="lb" fill="#fff" textLength="52.4" lengthAdjust="spacingAndGlyphs">25.557,56</text>
<g fill="#131313">
<path d="M12.1 650.1 H23.8 V664.7 H18.15 V655.6 H12.1 Z"/>
<circle cx="28.9" cy="652.9" r="2.8"/>
<path d="M35.1 650.1 H41.8 L36.05 664.7 H29.2 Z"/>
<text x="49.7" y="665" style="font-size:20.6px;font-weight:bold" textLength="119.7" lengthAdjust="spacingAndGlyphs">TradingView</text>
</g>
</svg>
</body></html>
